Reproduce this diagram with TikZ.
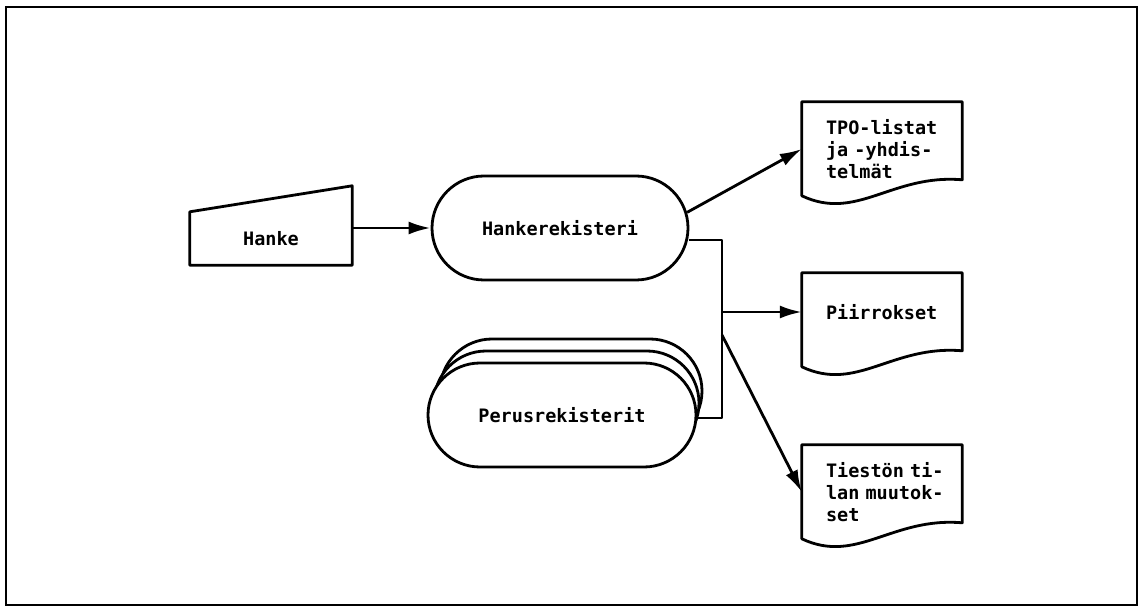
\documentclass[tikz,border=0pt]{standalone}
\usepackage{fontspec}
\setmonofont{DejaVu Sans Mono}
\usetikzlibrary{shapes.misc,arrows.meta,calc}

\tikzset{
    line/.style={line width=2.8pt, line join=round},
    arr/.style={line, -{Latex[length=22pt,width=13pt]}},
    txt/.style={font=\ttfamily\bfseries\fontsize{18.5}{22}\selectfont},
    pill/.style={rounded rectangle, draw, line, fill=white, inner sep=0pt, txt},
    doc/.style={rectangle, inner xsep=24pt, inner ysep=0pt, text width=112pt, align=left, minimum height=94pt, txt},
}

\begin{document}
\begin{tikzpicture}[x=1pt,y=-1pt]

    \useasboundingbox (0,0) rectangle (1141,612);
    \draw[line width=1.8pt] (6,7) rectangle (1137,605);

    % input and registers
    \node[txt, minimum width=162pt, minimum height=53pt, inner sep=0pt] (hanke) at (271,238.5) {Hanke};
    \draw[line] (hanke.south west) -- (hanke.north west) -- ($(hanke.north east)+(0,-26)$) -- (hanke.south east) -- cycle;

    \node[pill, minimum width=256pt, minimum height=104pt] (hank) at (560,228) {Hankerekisteri};

    \node[pill, minimum width=262pt, minimum height=104pt] (peruBack) at (571,391) {};
    \node[pill, minimum width=265pt, minimum height=104pt] (peruMid) at (566.5,403) {};
    \node[pill, minimum width=268pt, minimum height=104pt] (peru) at (562,415) {Perusrekisterit};

    % outputs
    \node[doc] (tpo) at (882,149) {TPO-listat\\\mbox{ja -yhdis-}\\telmät};
    \node[doc, minimum height=78pt] (pii) at (882,312) {Piirrokset};
    \node[doc] (tie) at (882,492) {\mbox{Tiestön ti-}\\\mbox{lan muutok-}\\set};

    \foreach \d in {tpo,pii,tie}
        \draw[line] (\d.north west) -- (\d.north east) -- ($(\d.north east)+(0,78)$)
            .. controls ($(\d.north west)+(90,72)$) and ($(\d.north west)+(55,120)$) .. ($(\d.north west)+(0,94)$) -- cycle;

    % connectors
    \coordinate (busTop) at (722,240);
    \coordinate (busFork) at (722,335);
    \coordinate (busBot) at (722,418);

    \draw[arr] (hanke.east |- hank.west) -- (hank.west);
    \draw[line] (hank.east |- busTop) -- (busTop) -- (busBot) -- (peru.east |- busBot);
    \draw[arr] (hank.7) -- (tpo.west);
    \draw[arr] (busTop |- pii.west) -- (pii.west);
    \draw[arr] (busFork) -- (tie.west);

\end{tikzpicture}
\end{document}
